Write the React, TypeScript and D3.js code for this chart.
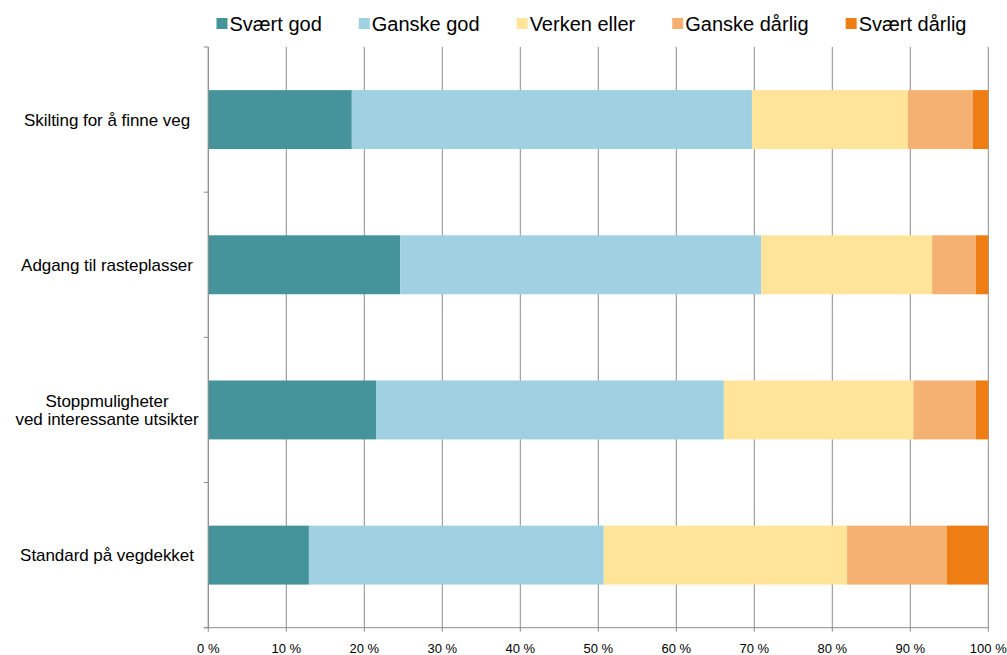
import React, { useEffect, useRef } from "react";
import * as d3 from "d3";

const categories = [
  "Skilting for å finne veg",
  "Adgang til rasteplasser",
  "Stoppmuligheter\nved interessante utsikter",
  "Standard på vegdekket",
];
const seriesNames = ["Svært god", "Ganske god", "Verken eller", "Ganske dårlig", "Svært dårlig"];
const sveartGod = [18.4, 24.6, 21.5, 12.9];
const ganskeGod = [51.3, 46.3, 44.6, 37.8];
const verkenEller = [20.0, 21.9, 24.3, 31.2];
const ganskeDarlig = [8.3, 5.6, 8.0, 12.8];
const svaertDarlig = [2.0, 1.6, 1.6, 5.3];
const seriesValues = [sveartGod, ganskeGod, verkenEller, ganskeDarlig, svaertDarlig];
const seriesColors = ["#46949B", "#9FD1E3", "#FFE499", "#F4B171", "#EE7E14"];
const xTicks = [0, 10, 20, 30, 40, 50, 60, 70, 80, 90, 100];

const W = 1007;
const H = 655;
const M = { left: 208.3, right: 988.3, top: 47, bottom: 627.7 };
const FONT = "'Liberation Sans', Arial, sans-serif";

export default function App() {
  const ref = useRef<SVGSVGElement>(null);
  useEffect(() => {
    const svg = d3.select(ref.current);
    svg.selectAll("*").remove();
    const x = d3.scaleLinear().domain([0, 100]).range([M.left, M.right]);
    const y = d3
      .scaleBand<string>()
      .domain(categories)
      .range([M.top, M.bottom])
      .paddingInner(0.594)
      .paddingOuter(0.297);

    const rows = categories.map((c, i) => {
      const r: any = { cat: c };
      seriesNames.forEach((s, j) => (r[s] = seriesValues[j][i]));
      return r;
    });
    const stacked = d3.stack().keys(seriesNames)(rows);

    // gridlines
    const grid = svg.append("g");
    grid
      .selectAll("line")
      .data(xTicks)
      .join("line")
      .attr("x1", (d) => x(d))
      .attr("x2", (d) => x(d))
      .attr("y1", M.top)
      .attr("y2", M.bottom + 4)
      .attr("stroke", "#8c8c8c")
      .attr("stroke-width", 1);

    // bars
    const g = svg.append("g");
    stacked.forEach((layer, j) => {
      g.append("g")
        .selectAll("rect")
        .data(layer)
        .join("rect")
        .attr("x", (d) => x(d[0]))
        .attr("width", (d) => x(d[1]) - x(d[0]))
        .attr("y", (d: any) => y(d.data.cat)!)
        .attr("height", y.bandwidth())
        .attr("fill", seriesColors[j]);
    });

    // axes
    const axis = svg.append("g").attr("stroke", "#8c8c8c").attr("stroke-width", 1);
    axis.append("line").attr("x1", M.left).attr("x2", M.left).attr("y1", M.top).attr("y2", M.bottom);
    axis.append("line").attr("x1", M.left - 4.5).attr("x2", M.right).attr("y1", M.bottom).attr("y2", M.bottom);
    const yTickPos = d3.range(categories.length + 1).map((i) => M.top + (i * (M.bottom - M.top)) / categories.length);
    axis
      .selectAll("line.yt")
      .data(yTickPos)
      .join("line")
      .attr("class", "yt")
      .attr("x1", M.left - 4.5)
      .attr("x2", M.left)
      .attr("y1", (d) => d)
      .attr("y2", (d) => d);

    // x tick labels
    svg
      .append("g")
      .selectAll("text")
      .data(xTicks)
      .join("text")
      .attr("x", (d) => x(d))
      .attr("y", 653)
      .attr("text-anchor", "middle")
      .attr("font-family", FONT)
      .attr("font-size", 13)
      .attr("fill", "#000")
      .text((d) => `${d} %`);

    // category labels
    const cl = svg.append("g");
    categories.forEach((c) => {
      const lines = c.split("\n");
      const cy = y(c)! + y.bandwidth() / 2;
      const lh = 18.5;
      const t = cl
        .append("text")
        .attr("text-anchor", "middle")
        .attr("font-family", FONT)
        .attr("font-size", 17)
        .attr("letter-spacing", -0.05)
        .attr("fill", "#000");
      lines.forEach((ln, i) => {
        t.append("tspan")
          .attr("x", 107)
          .attr("y", cy + 6 + (i - (lines.length - 1) / 2) * lh)
          .text(ln);
      });
    });

    // legend
    const lg = svg.append("g");
    let lx = 216.5;
    seriesNames.forEach((s, j) => {
      lg.append("rect")
        .attr("x", lx)
        .attr("y", 18)
        .attr("width", 11)
        .attr("height", 11)
        .attr("fill", seriesColors[j]);
      const t = lg
        .append("text")
        .attr("x", lx + 13)
        .attr("y", 30.5)
        .attr("font-family", FONT)
        .attr("font-size", 20)
        .attr("fill", "#000")
        .text(s);
      const w = (t.node() as SVGTextElement).getComputedTextLength();
      lx = lx + 13 + w + 37;
    });
  }, []);
  return (
    <svg
      ref={ref}
      width={W}
      height={H}
      style={{ position: "absolute", left: 0, top: 0, background: "#fff" }}
    />
  );
}
